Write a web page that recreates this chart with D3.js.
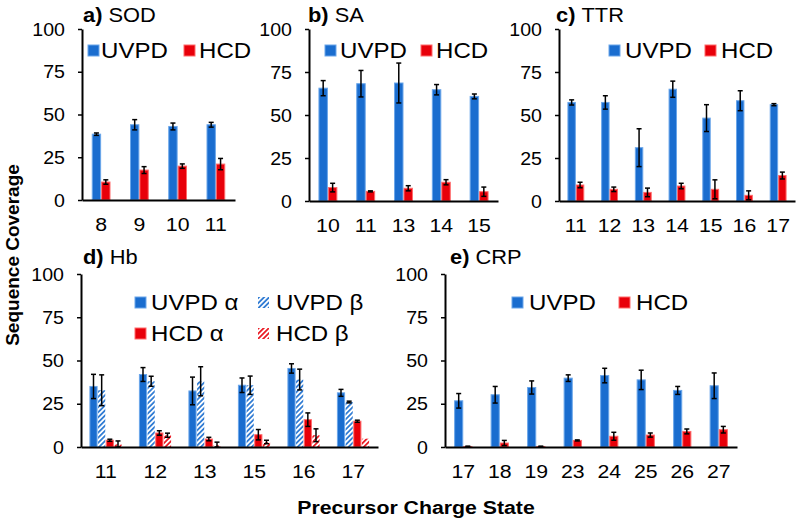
<!DOCTYPE html>
<html><head><meta charset="utf-8">
<script src="https://cdn.jsdelivr.net/npm/d3@7"></script>
<style>
html,body{margin:0;padding:0;background:#fff;}
svg{display:block;font-family:"Liberation Sans",Arial,sans-serif;}
</style></head>
<body><svg id="chart" width="800" height="523"></svg>
<script>
// ---------------- DATA ----------------
const yTicks = [0, 25, 50, 75, 100];

const sodCharge = ["8", "9", "10", "11"];
const sodUVPD = [38.5, 44, 43, 44];
const sodUVPDErr = [0.7, 3, 2, 1.4];
const sodHCD = [10.5, 17.5, 19.8, 21];
const sodHCDErr = [1.3, 2, 1.3, 3.3];

const saCharge = ["10", "11", "13", "14", "15"];
const saUVPD = [65.6, 68.2, 68.6, 64.7, 60.8];
const saUVPDErr = [4.4, 7.7, 11.6, 3, 1.4];
const saHCD = [7.8, 5.6, 7.4, 10.9, 5.4];
const saHCDErr = [2.5, 0.3, 1.5, 1.5, 2.7];

const ttrCharge = ["11", "12", "13", "14", "15", "16", "17"];
const ttrUVPD = [57.3, 57.3, 31, 65, 48.2, 58.3, 56];
const ttrUVPDErr = [1.5, 3.9, 11, 4.7, 7.8, 5.8, 0.6];
const ttrHCD = [9.3, 6.8, 5, 8.7, 6.8, 3.3, 14.8];
const ttrHCDErr = [1.6, 1.3, 2.5, 1.6, 5.5, 2.6, 2];

const hbCharge = ["11", "12", "13", "15", "16", "17"];
const hbUVPDa = [35, 41.9, 32.4, 35.7, 45.4, 31.3];
const hbUVPDaErr = [7, 4, 8, 4.2, 2.7, 2];
const hbUVPDb = [32.8, 38, 38, 35.7, 39, 26];
const hbUVPDbErr = [8.9, 2.9, 8.4, 5.3, 6, 0.5];
const hbHCDa = [3.9, 8.1, 4.6, 7.1, 15.8, 14.9];
const hbHCDaErr = [0.6, 1.3, 1, 3, 3.9, 0.6];
const hbHCDb = [1.5, 6.8, 1, 2.9, 6.8, 4.8];
const hbHCDbErr = [2, 1.2, 1.8, 1, 3.7, 0];

const crpCharge = ["17", "18", "19", "23", "24", "25", "26", "27"];
const crpUVPD = [26.7, 30.2, 34.4, 39.8, 41.3, 38.8, 32.7, 35.4];
const crpUVPDErr = [4.2, 4.8, 3.8, 1.9, 4.2, 5.6, 2.3, 7.4];
const crpHCD = [0.3, 2.3, 0.3, 3.8, 6.2, 6.9, 9, 10];
const crpHCDErr = [0.2, 1.5, 0.2, 0.3, 2.3, 1.2, 1.4, 1.9];

const yTitle = "Sequence Coverage";
const xTitle = "Precursor Charge State";

// ---------------- STYLE ----------------
const SX = 1.12;
const BLUE = "#1a6dcf", BLUE_EDGE = "#6aa6ea";
const RED = "#e8000a", RED_EDGE = "#ff6a6a";

const svg = d3.select("#chart");
const defs = svg.append("defs");
function hatch(id, color) {
  const p = defs.append("pattern").attr("id", id).attr("patternUnits", "userSpaceOnUse")
    .attr("width", 3.6).attr("height", 3.6).attr("patternTransform", "rotate(45)");
  p.append("rect").attr("width", 3.6).attr("height", 3.6).attr("fill", "#fff");
  p.append("line").attr("x1", 0.9).attr("x2", 0.9).attr("y1", 0).attr("y2", 3.6)
    .attr("stroke", color).attr("stroke-width", 1.6);
}
hatch("hBlue", BLUE);
hatch("hRed", RED);

const styles = {
  UVPD: {fill: BLUE, stroke: BLUE_EDGE},
  HCD: {fill: RED, stroke: RED_EDGE},
  "UVPD α": {fill: BLUE, stroke: BLUE_EDGE},
  "HCD α": {fill: RED, stroke: RED_EDGE},
  "UVPD β": {fill: "url(#hBlue)", stroke: "none"},
  "HCD β": {fill: "url(#hRed)", stroke: "none"}
};

function txt(g, x, y, s, size, opts = {}) {
  const t = g.append("text")
    .attr("transform", `translate(${x},${y}) scale(${opts.sx || SX},1)`)
    .attr("font-size", size).attr("fill", "#000")
    .attr("text-anchor", opts.anchor || "start");
  if (opts.bold) t.attr("font-weight", "bold");
  t.text(s);
  return t;
}

const panels = [
  {label: "a)", name: "SOD", cats: sodCharge, x0: 82, x1: 235, yb: 200, yt: 29, bw: 0.245,
   series: [["UVPD", sodUVPD, sodUVPDErr], ["HCD", sodHCD, sodHCDErr]],
   title: [83, 22],
   legend: [["UVPD", 88, 45, 101, 58], ["HCD", 184, 45, 199, 58]]},
  {label: "b)", name: "SA", cats: saCharge, x0: 309, x1: 498, yb: 201, yt: 29, bw: 0.25,
   series: [["UVPD", saUVPD, saUVPDErr], ["HCD", saHCD, saHCDErr]],
   title: [308, 22],
   legend: [["UVPD", 325, 45, 340, 58], ["HCD", 421, 45, 436, 58]]},
  {label: "c)", name: "TTR", cats: ttrCharge, x0: 559, x1: 795, yb: 201, yt: 29, bw: 0.25,
   series: [["UVPD", ttrUVPD, ttrUVPDErr], ["HCD", ttrHCD, ttrHCDErr]],
   title: [556, 22],
   legend: [["UVPD", 609, 45, 625, 58], ["HCD", 705, 45, 721, 58]]},
  {label: "d)", name: "Hb", cats: hbCharge, x0: 81, x1: 378, yb: 447, yt: 274, bw: 0.165,
   series: [["UVPD α", hbUVPDa, hbUVPDaErr], ["UVPD β", hbUVPDb, hbUVPDbErr],
            ["HCD α", hbHCDa, hbHCDaErr], ["HCD β", hbHCDb, hbHCDbErr]],
   title: [83, 264],
   legend: [["UVPD α", 135, 297, 151, 310], ["UVPD β", 258, 297, 276, 310],
            ["HCD α", 135, 328, 151, 341], ["HCD β", 258, 328, 276, 341]]},
  {label: "e)", name: "CRP", cats: crpCharge, x0: 445, x1: 737, yb: 447, yt: 274, bw: 0.25,
   series: [["UVPD", crpUVPD, crpUVPDErr], ["HCD", crpHCD, crpHCDErr]],
   title: [450, 264],
   legend: [["UVPD", 512, 297, 529, 310], ["HCD", 619, 297, 636, 310]]}
];

panels.forEach(p => {
  const g = svg.append("g");
  const y = d3.scaleLinear().domain([0, 100]).range([p.yb, p.yt]);
  const x = d3.scaleBand().domain(p.cats).range([p.x0, p.x1]);
  const n = p.series.length;
  const w = x.bandwidth() * p.bw;
  const sub = d3.scaleBand().domain(p.series.map(s => s[0])).range([-n * w / 2, n * w / 2]);

  // y axis
  const ya = g.append("g").attr("transform", `translate(${p.x0},0)`)
    .call(d3.axisLeft(y).tickValues(yTicks).tickSize(4).tickSizeOuter(0));
  ya.select(".domain").attr("stroke", "#000").attr("stroke-width", 2);
  ya.selectAll(".tick line").attr("stroke", "#000").attr("stroke-width", 1.5);
  ya.selectAll(".tick text").each(function() {
    const t = d3.select(this);
    t.attr("x", -17 / SX).attr("dy", "0.35em")
     .attr("transform", `scale(${SX},1)`)
     .attr("font-size", 17.5).attr("fill", "#000")
     .attr("font-family", "Liberation Sans, Arial, sans-serif");
  });

  // bars
  p.series.forEach(([name, vals, errs]) => {
    const st = styles[name];
    g.append("g").selectAll("rect").data(p.cats).join("rect")
      .attr("x", (c) => x(c) + x.bandwidth() / 2 + sub(name) + 0.5)
      .attr("width", sub.bandwidth() - 1)
      .attr("y", (c, i) => y(vals[i]))
      .attr("height", (c, i) => y(0) - y(vals[i]))
      .attr("fill", st.fill).attr("stroke", st.stroke).attr("stroke-width", 1);
  });
  // error bars
  p.series.forEach(([name, vals, errs]) => {
    const eg = g.append("g").attr("stroke", "#000").attr("stroke-width", 1.5);
    p.cats.forEach((c, i) => {
      if (!errs[i]) return;
      const cx = x(c) + x.bandwidth() / 2 + sub(name) + sub.bandwidth() / 2;
      const lo = y(Math.max(0, vals[i] - errs[i])), hi = y(vals[i] + errs[i]);
      eg.append("line").attr("x1", cx).attr("x2", cx).attr("y1", lo).attr("y2", hi);
      eg.append("line").attr("x1", cx - 2.5).attr("x2", cx + 2.5).attr("y1", lo).attr("y2", lo);
      eg.append("line").attr("x1", cx - 2.5).attr("x2", cx + 2.5).attr("y1", hi).attr("y2", hi);
    });
  });

  // x axis
  const xa = g.append("g").attr("transform", `translate(0,${p.yb})`)
    .call(d3.axisBottom(x).tickSize(0).tickSizeOuter(0));
  xa.select(".domain").attr("stroke", "#000").attr("stroke-width", 2);
  xa.selectAll(".tick text").each(function() {
    d3.select(this).attr("y", 0).attr("dy", 0)
      .attr("transform", `translate(0,31) scale(${SX},1)`)
      .attr("font-size", 19).attr("fill", "#000")
      .attr("font-family", "Liberation Sans, Arial, sans-serif");
  });

  // title
  const tt = g.append("text")
    .attr("transform", `translate(${p.title[0]},${p.title[1]}) scale(${SX},1)`)
    .attr("font-size", 19.5).attr("fill", "#000");
  tt.append("tspan").attr("font-weight", "bold").text(p.label + " ");
  tt.append("tspan").text(p.name);

  // legend
  p.legend.forEach(([name, sx, sy, tx, ty]) => {
    const st = styles[name];
    g.append("rect").attr("x", sx).attr("y", sy).attr("width", 11).attr("height", 11)
      .attr("fill", st.fill).attr("stroke", st.stroke).attr("stroke-width", 1);
    txt(g, tx, ty, name, 21.5);
  });
});

// axis titles
svg.append("text")
  .attr("transform", "translate(19,255) rotate(-90)")
  .attr("text-anchor", "middle").attr("font-size", 19).attr("font-weight", "bold")
  .text(yTitle);
txt(svg, 416, 514, xTitle, 19, {anchor: "middle", bold: true});
</script>
</body></html>
